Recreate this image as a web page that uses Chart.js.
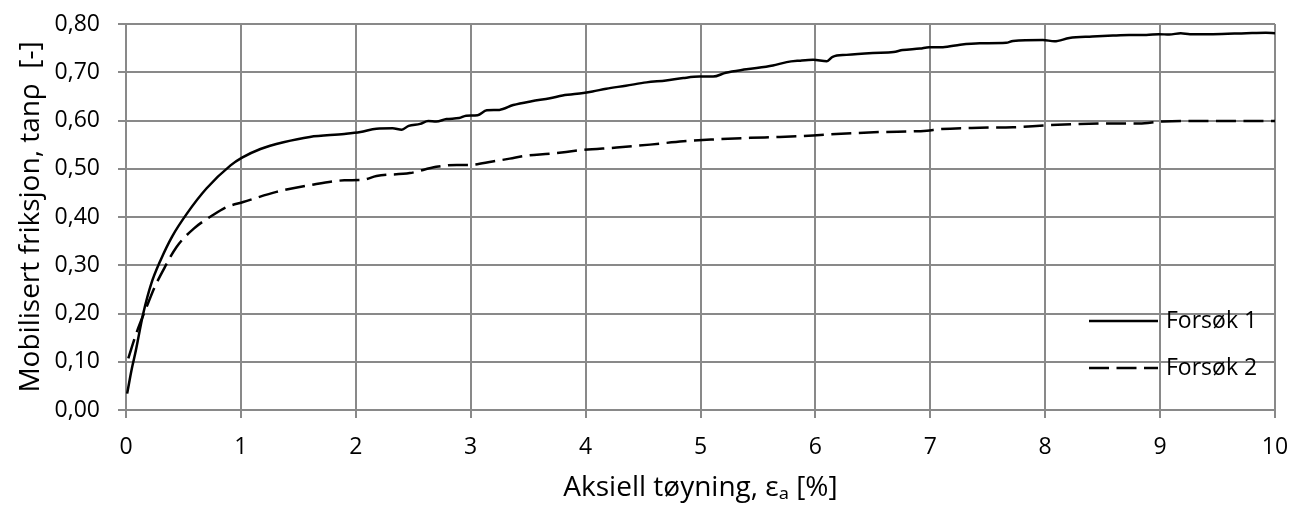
<!DOCTYPE html>
<html>
<head>
<meta charset="utf-8">
<script src="https://cdn.jsdelivr.net/npm/chart.js@4.4.0/dist/chart.umd.min.js"></script>
<style>
  html, body { margin: 0; padding: 0; background: #fff; }
  #wrap { width: 1299px; height: 508px; }
</style>
</head>
<body>
<div id="wrap"><canvas id="friksjonChart" width="1299" height="508"></canvas></div>
<script>
// Forsøk 1 (heltrukket)
var forsok1X = [0.01, 0.05, 0.08, 0.15, 0.22, 0.30, 0.40, 0.53, 0.70, 0.91, 1.01, 1.17, 1.37, 1.60, 1.90, 2.04, 2.18, 2.32, 2.40, 2.46,
  2.56, 2.63, 2.70, 2.79, 2.90, 2.96, 3.06, 3.14, 3.25, 3.37, 3.53, 3.69, 3.80, 3.98, 4.06, 4.18, 4.35, 4.53, 4.70, 4.85,
  4.99, 5.11, 5.22, 5.40, 5.63, 5.75, 5.86, 5.98, 6.10, 6.15, 6.27, 6.50, 6.68, 6.76, 6.91, 6.99, 7.11, 7.26, 7.43, 7.66,
  7.72, 7.98, 8.08, 8.21, 8.41, 8.59, 8.73, 8.88, 8.99, 9.08, 9.18, 9.26, 9.46, 9.75, 9.92, 10.0];
var forsok1Y = [0.034, 0.085, 0.117, 0.200, 0.262, 0.310, 0.359, 0.407, 0.459, 0.507, 0.523, 0.541, 0.555, 0.566, 0.572, 0.576, 0.583, 0.584, 0.581, 0.589,
  0.593, 0.599, 0.598, 0.603, 0.605, 0.610, 0.611, 0.621, 0.622, 0.632, 0.640, 0.646, 0.652, 0.657, 0.660, 0.666, 0.672, 0.679, 0.683, 0.688,
  0.691, 0.691, 0.699, 0.706, 0.714, 0.721, 0.724, 0.726, 0.723, 0.732, 0.736, 0.740, 0.742, 0.746, 0.749, 0.752, 0.752, 0.757, 0.760, 0.761,
  0.765, 0.767, 0.764, 0.771, 0.774, 0.776, 0.777, 0.777, 0.779, 0.778, 0.781, 0.779, 0.779, 0.781, 0.782, 0.781];

// Forsøk 2 (stiplet)
var forsok2X = [0.02, 0.09, 0.18, 0.25, 0.34, 0.44, 0.59, 0.75, 0.88, 1.02, 1.31, 1.60, 1.90, 2.06, 2.18, 2.47, 2.70, 2.88, 2.99, 3.19,
  3.34, 3.48, 3.69, 3.98, 4.27, 4.56, 4.85, 5.14, 5.43, 5.69, 5.98, 6.18, 6.56, 6.97, 7.08, 7.43, 7.72, 8.01, 8.30, 8.59,
  8.82, 9.02, 9.46, 9.75, 10.0];
var forsok2Y = [0.107, 0.159, 0.214, 0.255, 0.297, 0.338, 0.376, 0.403, 0.421, 0.431, 0.452, 0.466, 0.476, 0.477, 0.485, 0.491, 0.504, 0.508, 0.508, 0.515,
  0.521, 0.527, 0.531, 0.539, 0.544, 0.550, 0.557, 0.561, 0.564, 0.566, 0.569, 0.572, 0.576, 0.579, 0.582, 0.585, 0.586, 0.590, 0.593, 0.594,
  0.594, 0.598, 0.599, 0.599, 0.599];

var seriesLabels = ["Forsøk 1", "Forsøk 2"];
var xTickValues = [0, 1, 2, 3, 4, 5, 6, 7, 8, 9, 10];
var yTickValues = [0, 0.1, 0.2, 0.3, 0.4, 0.5, 0.6, 0.7, 0.8];

function toPoints(xs, ys) {
  return xs.map(function (x, i) { return { x: x, y: ys[i] }; });
}

var fontFamily = "'Open Sans', 'Noto Sans', sans-serif";
var gridColor = '#898989';

// enkel legende inne i plottet, som i Excel
var insideLegend = {
  id: 'insideLegend',
  afterDatasetsDraw: function (chart) {
    var ctx = chart.ctx;
    var area = chart.chartArea;
    var rows = [area.bottom - 89, area.bottom - 42];
    ctx.save();
    chart.data.datasets.forEach(function (ds, i) {
      var y = rows[i];
      ctx.beginPath();
      ctx.setLineDash(ds.borderDash || []);
      ctx.lineWidth = ds.borderWidth;
      ctx.strokeStyle = ds.borderColor;
      ctx.moveTo(area.right - 186, y);
      ctx.lineTo(area.right - 117, y);
      ctx.stroke();
      ctx.setLineDash([]);
      ctx.fillStyle = '#000';
      ctx.font = '23px ' + fontFamily;
      ctx.textBaseline = 'middle';
      ctx.textAlign = 'left';
      ctx.fillText(ds.label, area.right - 109, y);
    });
    ctx.restore();
  }
};

var ctx = document.getElementById('friksjonChart');
var friksjonChart = new Chart(ctx, {
  type: 'scatter',
  data: {
    datasets: [
      {
        label: seriesLabels[0],
        data: toPoints(forsok1X, forsok1Y),
        showLine: true,
        borderColor: '#000',
        borderWidth: 2.5,
        pointRadius: 0,
        cubicInterpolationMode: 'monotone'
      },
      {
        label: seriesLabels[1],
        data: toPoints(forsok2X, forsok2Y),
        showLine: true,
        borderColor: '#000',
        borderWidth: 2.5,
        borderDash: [20, 7.5],
        pointRadius: 0,
        cubicInterpolationMode: 'monotone'
      }
    ]
  },
  options: {
    responsive: false,
    animation: false,
    layout: { padding: { left: 0, right: 24, top: 24, bottom: 0 } },
    plugins: {
      legend: { display: false },
      tooltip: { enabled: false }
    },
    scales: {
      x: {
        type: 'linear',
        min: 0,
        max: 10,
        afterFit: function (scale) {
          scale.height = 98;
          scale.paddingLeft = 0;
          scale.paddingRight = 0;
        },
        afterBuildTicks: function (scale) {
          scale.ticks = xTickValues.map(function (v) { return { value: v }; });
        },
        ticks: {
          color: '#000',
          font: { family: fontFamily, size: 23 },
          padding: 16,
          maxRotation: 0,
          callback: function (v) { return String(v); }
        },
        grid: { color: gridColor, lineWidth: 2, tickLength: 8 },
        border: { color: gridColor, width: 2 },
        title: {
          display: true,
          text: 'Aksiell tøyning, εₐ [%]',
          color: '#000',
          font: { family: fontFamily, size: 28 },
          padding: { top: 0, bottom: 3 }
        }
      },
      y: {
        type: 'linear',
        min: 0,
        max: 0.8,
        afterFit: function (scale) {
          scale.width = 126;
          scale.paddingTop = 0;
          scale.paddingBottom = 0;
        },
        afterBuildTicks: function (scale) {
          scale.ticks = yTickValues.map(function (v) { return { value: v }; });
        },
        ticks: {
          color: '#000',
          font: { family: fontFamily, size: 23 },
          padding: 18,
          callback: function (v) { return v.toFixed(2).replace('.', ','); }
        },
        grid: { color: gridColor, lineWidth: 2, tickLength: 8 },
        border: { color: gridColor, width: 2 },
        title: {
          display: true,
          text: 'Mobilisert friksjon, tanρ  [-]',
          color: '#000',
          font: { family: fontFamily, size: 28 },
          padding: { top: 14, bottom: 0 }
        }
      }
    }
  },
  plugins: [insideLegend]
});
</script>
</body>
</html>
